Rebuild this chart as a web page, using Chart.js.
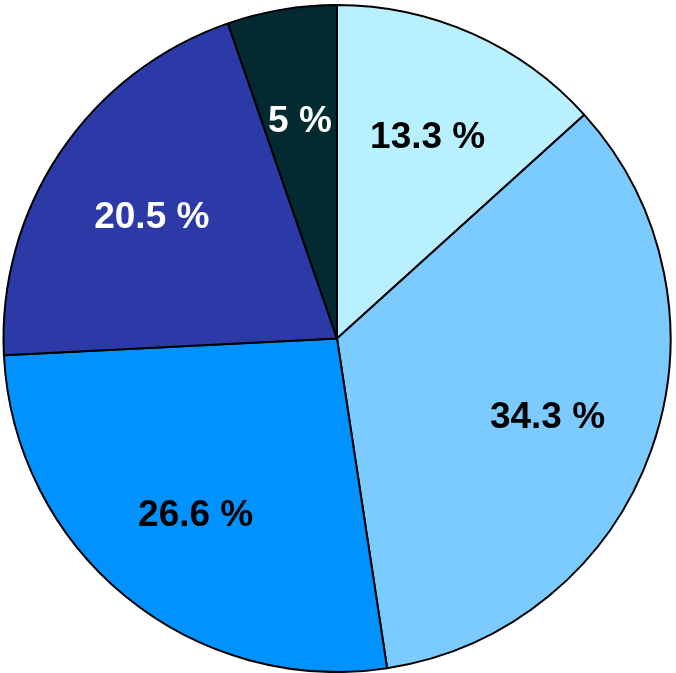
<!DOCTYPE html>
<html>
<head>
<meta charset="utf-8">
<script src="https://cdn.jsdelivr.net/npm/chart.js@4.4.1/dist/chart.umd.min.js"></script>
<style>
  html, body { margin: 0; padding: 0; background: #ffffff; }
  #wrap { width: 676px; height: 673px; }
</style>
</head>
<body>
<div id="wrap"><canvas id="pie" width="676" height="673"></canvas></div>
<script>
'use strict';

const SLICES       = ['A', 'B', 'C', 'D', 'E'];
const SHARES       = [13.3, 34.3, 26.6, 20.5, 5.3];
const SHARE_LABELS = ['13.3 %', '34.3 %', '26.6 %', '20.5 %', '5 %'];
const SLICE_COLORS = ['#b8f0ff', '#7bcbff', '#0093ff', '#2b3aa6', '#022a30'];
const TEXT_COLORS  = ['#000000', '#000000', '#000000', '#ffffff', '#ffffff'];

// draws the percent text inside each slice
const sliceLabels = {
  id: 'sliceLabels',
  afterDatasetsDraw(chart) {
    const ctx  = chart.ctx;
    const meta = chart.getDatasetMeta(0);
    ctx.save();
    ctx.font = 'bold 37px "Liberation Sans", Arial, sans-serif';
    ctx.textAlign = 'center';
    ctx.textBaseline = 'middle';
    meta.data.forEach((arc, i) => {
      const mid = (arc.startAngle + arc.endAngle) / 2;
      const r   = arc.outerRadius * 0.67;
      ctx.fillStyle = TEXT_COLORS[i];
      ctx.fillText(SHARE_LABELS[i], arc.x + Math.cos(mid) * r, arc.y + Math.sin(mid) * r + 4);
    });
    ctx.restore();
  },
};

new Chart(document.getElementById('pie'), {
  type: 'pie',
  data: {
    labels: SLICES,
    datasets: [{
      data: SHARES,
      backgroundColor: SLICE_COLORS,
      borderColor: '#000000',
      borderWidth: 2,
    }],
  },
  options: {
    responsive: false,
    animation: false,
    layout: { padding: { top: 4, bottom: 0, left: 0, right: 2 } },
    plugins: {
      legend: { display: false },
      tooltip: { enabled: false },
    },
  },
  plugins: [sliceLabels],
});
</script>
</body>
</html>
